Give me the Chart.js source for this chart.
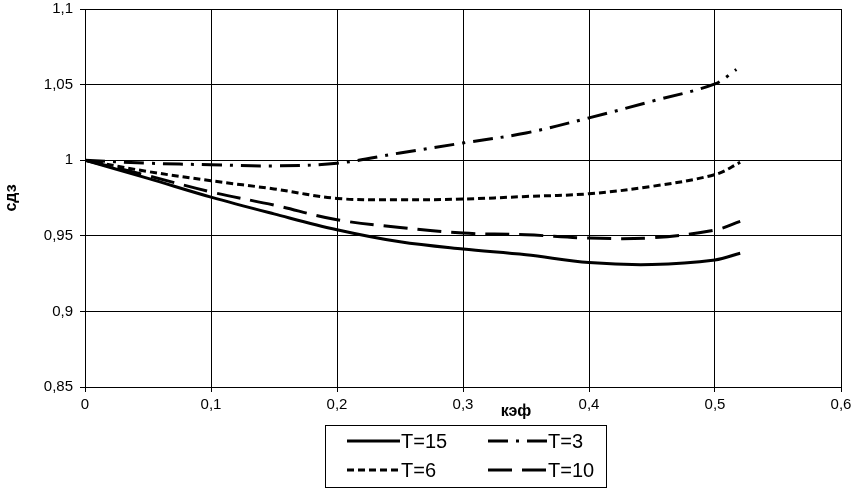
<!DOCTYPE html>
<html><head><meta charset="utf-8">
<script src="https://cdn.jsdelivr.net/npm/chart.js@4/dist/chart.umd.min.js"></script>
<style>html,body{margin:0;padding:0;background:#fff}#wrap{width:858px;height:489px}</style>
</head><body><div id="wrap"><canvas id="c" width="858" height="489"></canvas></div>
<script>
const xValues = [0, 0.05, 0.1, 0.15, 0.2, 0.25, 0.3, 0.35, 0.4, 0.45, 0.5, 0.52];
const xValuesT3 = [0, 0.05, 0.1, 0.15, 0.2, 0.25, 0.3, 0.35, 0.4, 0.45, 0.5, 0.517];
const t15 = [1, 0.988, 0.9756, 0.9645, 0.954, 0.946, 0.9412, 0.9374, 0.9323, 0.931, 0.934, 0.9385];
const t3  = [1, 0.998, 0.997, 0.9962, 0.998, 1.0048, 1.0114, 1.018, 1.028, 1.039, 1.0505, 1.06];
const t6  = [1, 0.9925, 0.9864, 0.981, 0.9747, 0.9738, 0.9743, 0.976, 0.9778, 0.9827, 0.9905, 0.9985];
const t10 = [1, 0.9897, 0.979, 0.9703, 0.9606, 0.9555, 0.9518, 0.9507, 0.9485, 0.9487, 0.9538, 0.9595];
const seriesLabels = ['T=15', 'T=3', 'T=6', 'T=10'];
const xTickLabels = ['0', '0,1', '0,2', '0,3', '0,4', '0,5', '0,6'];
const yTickLabels = ['0,85', '0,9', '0,95', '1', '1,05', '1,1'];
const xTitle = 'кэф';
const yTitle = 'сдз';

const toPts = (xs, ys) => xs.map((x, i) => ({x: x, y: ys[i]}));
const FONT = '"Liberation Sans", Arial, sans-serif';

const dashes = [[], [20, 8, 3, 8], [7, 4], [24, 10]];
const seriesData = [toPts(xValues, t15), toPts(xValuesT3, t3), toPts(xValues, t6), toPts(xValues, t10)];

const datasets = seriesLabels.map((lab, i) => ({
  label: lab,
  data: seriesData[i],
  borderColor: '#000',
  backgroundColor: '#000',
  borderWidth: 3,
  borderDash: dashes[i],
  borderCapStyle: 'butt',
  pointRadius: 0,
  tension: 0.35,
  fill: false
}));

const extras = {
  id: 'extras',
  afterDraw(chart) {
    const ctx = chart.ctx;
    ctx.save();
    ctx.fillStyle = '#000';
    ctx.font = 'bold 16px ' + FONT;
    ctx.textAlign = 'center';
    ctx.textBaseline = 'middle';
    ctx.fillText(xTitle, 516, 412);
    ctx.save();
    ctx.translate(12, 198);
    ctx.rotate(-Math.PI / 2);
    ctx.fillText(yTitle, 0, 0);
    ctx.restore();
    ctx.strokeStyle = '#000';
    ctx.lineWidth = 1;
    ctx.setLineDash([]);
    ctx.strokeRect(325.5, 425.5, 281, 62);
    const pos = [
      {lx: 347, lw: 53, tx: 401, y: 441},
      {lx: 488, lw: 59, tx: 548, y: 441},
      {lx: 347, lw: 53, tx: 401, y: 470},
      {lx: 488, lw: 59, tx: 548, y: 470}
    ];
    ctx.font = '20px ' + FONT;
    ctx.textAlign = 'left';
    chart.data.datasets.forEach((ds, i) => {
      const p = pos[i];
      ctx.beginPath();
      ctx.lineWidth = ds.borderWidth;
      ctx.lineCap = 'butt';
      ctx.setLineDash(ds.borderDash || []);
      ctx.moveTo(p.lx, p.y);
      ctx.lineTo(p.lx + p.lw, p.y);
      ctx.stroke();
      ctx.setLineDash([]);
      ctx.fillText(ds.label, p.tx, p.y + 1);
    });
    ctx.restore();
  }
};

new Chart(document.getElementById('c'), {
  type: 'line',
  data: {datasets: datasets},
  options: {
    responsive: false,
    animation: false,
    devicePixelRatio: 1,
    layout: {padding: {top: 9, right: 17, left: 0, bottom: 0}},
    plugins: {legend: {display: false}, tooltip: {enabled: false}},
    scales: {
      x: {
        type: 'linear', min: 0, max: 0.6,
        ticks: {stepSize: 0.1, color: '#000', font: {family: FONT, size: 15}, padding: 4,
          maxRotation: 0, callback: (v, i) => xTickLabels[i]},
        grid: {color: '#000', lineWidth: 1, tickLength: 5, tickColor: '#000'},
        border: {color: '#000', width: 1},
        afterFit: s => { s.height = 102; s.paddingLeft = 0; s.paddingRight = 0; }
      },
      y: {
        type: 'linear', min: 0.85, max: 1.1,
        ticks: {stepSize: 0.05, color: '#000', font: {family: FONT, size: 15}, padding: 7,
          callback: (v, i) => yTickLabels[i]},
        grid: {color: '#000', lineWidth: 1, tickLength: 5, tickColor: '#000'},
        border: {color: '#000', width: 1},
        afterFit: s => { s.width = 85; s.paddingTop = 0; s.paddingBottom = 0; }
      }
    }
  },
  plugins: [extras]
});
</script></body></html>
